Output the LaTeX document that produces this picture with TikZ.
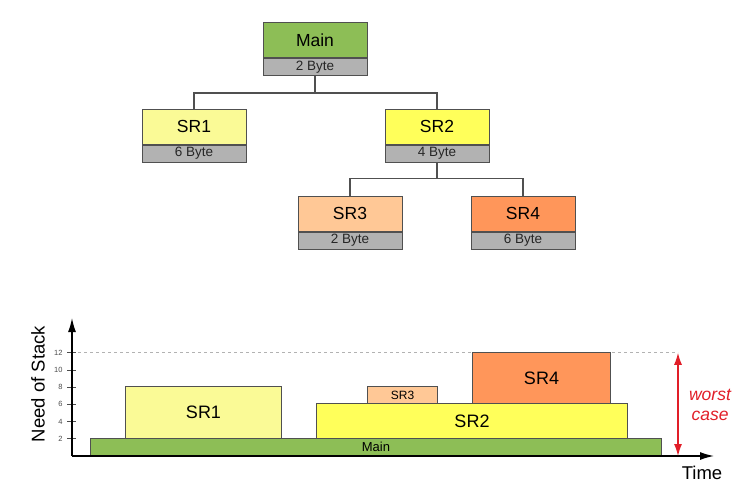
\documentclass[tikz,border=0pt]{standalone}
\usepackage{fontspec}
\setmainfont{Liberation Sans}
\usepackage{tikz}
\usetikzlibrary{arrows.meta,positioning,calc}
\definecolor{mgreen}{RGB}{141,190,86}
\definecolor{lyellow}{RGB}{250,250,150}
\definecolor{syellow}{RGB}{255,255,90}
\definecolor{peach}{RGB}{255,200,150}
\definecolor{sorange}{RGB}{255,150,90}
\definecolor{fgray}{RGB}{178,178,178}
\definecolor{edgegray}{RGB}{80,80,80}
\definecolor{wred}{RGB}{225,30,40}

\begin{document}
\begin{tikzpicture}[x=1pt, y=-1pt,
  head/.style={rectangle, draw=edgegray, line width=1pt, inner sep=0pt, minimum width=104pt, minimum height=35pt, font=\fontsize{17.5}{20}\selectfont},
  foot/.style={rectangle, draw=edgegray, line width=1pt, fill=fgray, inner sep=0pt, minimum width=104pt, minimum height=17pt, font=\fontsize{13.5}{15}\selectfont, text=black!85},
  link/.style={draw=edgegray, line width=1.5pt},
  bar/.style={rectangle, draw=edgegray, line width=1pt, inner sep=0pt, anchor=south west, font=\fontsize{18}{20}\selectfont},
  axis/.style={line width=1.4pt, -{Latex[length=14pt,width=8pt]}},
  tick/.style={font=\fontsize{7.5}{8}\selectfont, text=black!70}
]
  \useasboundingbox (0,0) rectangle (752,501);

  % call tree
  \node[head, fill=mgreen] (main) at (315,40) {Main};
  \node[foot, below=0pt of main] (mainb) {2 Byte};

  \node[head, fill=lyellow] (sr1) at (194,126.5) {SR1};
  \node[foot, below=0pt of sr1] (sr1b) {6 Byte};
  \node[head, fill=syellow] (sr2) at (437,126.5) {SR2};
  \node[foot, below=0pt of sr2] (sr2b) {4 Byte};

  \node[head, fill=peach] (sr3) at (350,213.5) {SR3};
  \node[foot, below=0pt of sr3] (sr3b) {2 Byte};
  \node[head, fill=sorange] (sr4) at (523,213.5) {SR4};
  \node[foot, below=0pt of sr4] (sr4b) {6 Byte};

  \draw[link] (mainb.south) -- ++(0,17) -| (sr1.north);
  \draw[link] (mainb.south) -- ++(0,17) -| (sr2.north);
  \draw[link] (sr2b.south) -- ++(0,16) -| (sr3.north);
  \draw[link] (sr2b.south) -- ++(0,16) -| (sr4.north);

  % stack chart
  \coordinate (origin) at (72,456);
  \coordinate (ytop) at (72,318);
  \coordinate (xend) at (714,456);
  \coordinate (wtop) at (678,352.8);
  \coordinate (wbot) at (678,456);

  \draw[gray!60, dashed, line width=0.8pt] (72,352.8) -- (wtop);

  \node[bar, fill=mgreen, minimum width=571pt, minimum height=17.2pt, font=\fontsize{13}{15}\selectfont] (cmain) at (90,456) {Main};
  \node[bar, fill=lyellow, minimum width=156pt, minimum height=51.6pt] (csr1) at (125,438.8) {SR1};
  \node[bar, fill=syellow, minimum width=311pt, minimum height=34.4pt] (csr2) at (316,438.8) {SR2};
  \node[bar, fill=peach, minimum width=70pt, minimum height=17.2pt, font=\fontsize{12}{14}\selectfont] (csr3) at (367,404.4) {SR3};
  \node[bar, fill=sorange, minimum width=138pt, minimum height=51.6pt] (csr4) at (472,404.4) {SR4};

  \foreach \v in {2,4,...,12} {
    \draw[black!70, line width=0.7pt] (67,{456-8.6*\v}) -- (76,{456-8.6*\v});
    \node[tick, anchor=east] at (66,{456-8.6*\v}) {\v};
  }

  \draw[axis] (origin) -- (ytop);
  \draw[axis] (origin) -- (xend);
  \draw[wred, line width=1.3pt, {Latex[length=12pt,width=8pt]}-{Latex[length=12pt,width=8pt]}] (wtop) -- (wbot);

  \node[rotate=90, font=\fontsize{18.5}{20}\selectfont] (ylabel) at (38,384) {Need of Stack};
  \node[font=\fontsize{18.5}{20}\selectfont] (xlabel) at (702,473) {Time};
  \node[text=wred, align=center, font=\fontsize{17.5}{20}\itshape\selectfont] (worst) at (710,405) {worst\\case};
\end{tikzpicture}
\end{document}
